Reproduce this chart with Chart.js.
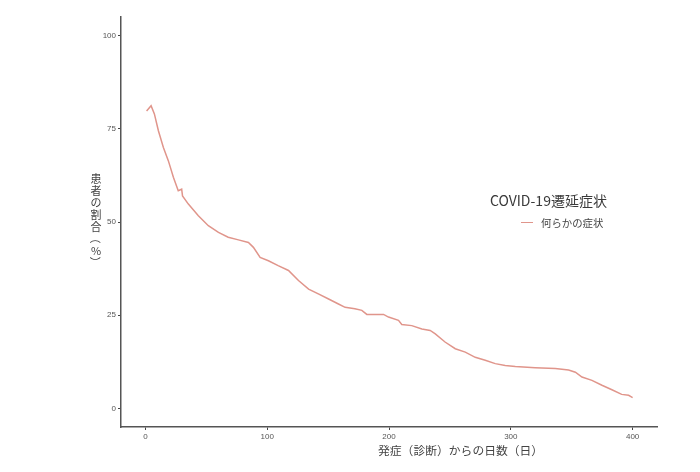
<!DOCTYPE html>
<html>
<head>
<meta charset="utf-8">
<script src="https://cdn.jsdelivr.net/npm/chart.js@4/dist/chart.umd.min.js"></script>
<style>
  html, body { margin: 0; padding: 0; background: #fff; }
  #wrap { position: relative; width: 700px; height: 472px; }
  canvas { position: absolute; left: 0; top: 0; }
  .txt { position: absolute; font-family: "Noto Sans CJK JP", "Noto Sans", sans-serif; color: #444; white-space: nowrap; }
  #ytitle { left: 89px; top: 172px; width: 14px; font-size: 11px; line-height: 12px; text-align: center; }
  #ytitle span { display: block; height: 12px; }
  #ytitle .rot { transform: rotate(90deg); }
  #xtitle { left: 378px; top: 441px; font-size: 11.8px; }
  #legtitle { left: 490px; top: 190px; font-size: 14px; color: #3a3a3a; }
  #legitem { left: 541px; top: 215px; font-size: 10.4px; color: #444; }
  #legline { position: absolute; left: 521px; top: 222px; width: 12px; height: 1.4px; background: #e0958b; }
</style>
</head>
<body>
<div id="wrap">
  <canvas id="c" width="700" height="472"></canvas>
  <div id="ytitle" class="txt"><span>患</span><span>者</span><span>の</span><span>割</span><span>合</span><span class="rot">（</span><span>%</span><span class="rot">）</span></div>
  <div id="xtitle" class="txt">発症（診断）からの日数（日）</div>
  <div id="legtitle" class="txt">COVID-19遷延症状</div>
  <div id="legline"></div>
  <div id="legitem" class="txt">何らかの症状</div>
</div>
<script>
const days = [1, 4.7, 7.4, 10.7, 14.8, 18.9, 23, 27, 29.8, 30.5, 35.3, 43.5, 51.7, 60, 68, 76.4, 84.6, 88.7, 94.2, 101, 109, 117.5, 125.7, 134, 142, 150, 158.5, 164, 172, 177.7, 181.8, 195.5, 199.6, 207.8, 210.5, 218.7, 227, 233.8, 238, 246, 254.4, 262.6, 270.8, 279, 287.2, 295.4, 303.7, 320, 336.5, 347.4, 353, 358.4, 366.6, 374.8, 383, 391, 396.7, 400];
const pct = [79.8, 81.2, 79, 74.5, 70, 66.4, 62, 58.4, 58.8, 57, 54.8, 51.7, 49, 47.2, 45.9, 45.2, 44.5, 43.2, 40.5, 39.6, 38.3, 37, 34.3, 32, 30.7, 29.4, 28, 27.1, 26.7, 26.3, 25.2, 25.2, 24.5, 23.6, 22.5, 22.2, 21.3, 20.9, 20, 17.8, 16, 15.1, 13.7, 12.9, 12, 11.5, 11.2, 10.9, 10.7, 10.3, 9.7, 8.4, 7.5, 6.2, 5, 3.75, 3.5, 2.9];
const xTicks = [0, 100, 200, 300, 400];
const yTicks = [0, 25, 50, 75, 100];
const seriesName = "何らかの症状";

const points = days.map((d, i) => ({ x: d, y: pct[i] }));
const tickFont = { family: "Liberation Sans, Arial, sans-serif", size: 8 };

new Chart(document.getElementById('c'), {
  type: 'line',
  data: {
    datasets: [{
      label: seriesName,
      data: points,
      borderColor: '#e0958b',
      borderWidth: 1.5,
      pointRadius: 0,
      tension: 0,
      fill: false
    }]
  },
  options: {
    responsive: false,
    animation: false,
    devicePixelRatio: 1,
    layout: { padding: { left: 80, right: 43, top: 17, bottom: 0 } },
    plugins: { legend: { display: false }, tooltip: { enabled: false } },
    scales: {
      x: {
        type: 'linear',
        min: -20, max: 420,
        afterBuildTicks: s => { s.ticks = xTicks.map(v => ({ value: v })); },
        afterFit: s => { s.height = 45; },
        grid: { drawOnChartArea: false, drawTicks: true, tickLength: 3, color: '#444' },
        border: { display: true, color: '#555', width: 1.5 },
        ticks: { font: tickFont, color: '#555', padding: 2, maxRotation: 0 }
      },
      y: {
        type: 'linear',
        min: -5, max: 105,
        afterBuildTicks: s => { s.ticks = yTicks.map(v => ({ value: v })); },
        afterFit: s => { s.width = 41; },
        grid: { drawOnChartArea: false, drawTicks: true, tickLength: 3, color: '#444' },
        border: { display: true, color: '#555', width: 1.5 },
        ticks: { font: tickFont, color: '#555', padding: 2 }
      }
    }
  }
});
</script>
</body>
</html>
